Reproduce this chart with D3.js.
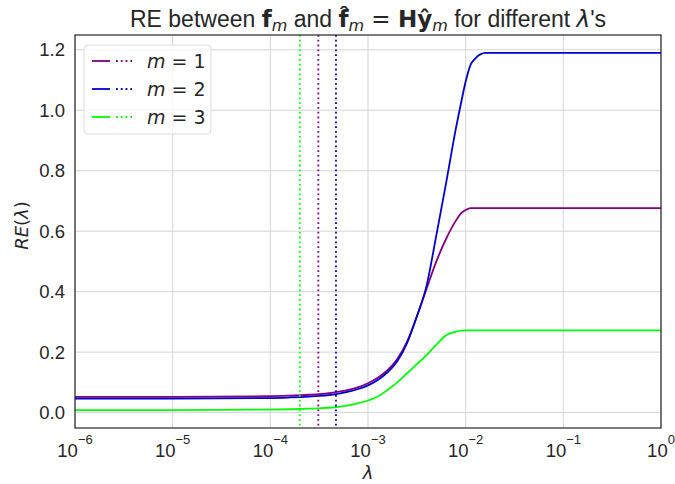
<!DOCTYPE html>
<html>
<head>
<meta charset="utf-8">
<script src="https://cdn.jsdelivr.net/npm/d3@7"></script>
<style>
  body { margin: 0; background: #fff; }
  svg text { font-family: "Liberation Sans", Arial, sans-serif; fill: #262626; }
  .math { font-family: "DejaVu Sans", sans-serif; }
</style>
</head>
<body>
<div id="chart"></div>
<script>
// log10(lambda) sample points
var logLambda = [-6, -5, -4, -3.8, -3.6, -3.5, -3.4, -3.3, -3.2, -3.1, -3.0, -2.9, -2.8, -2.7,
                 -2.6, -2.5, -2.4, -2.3, -2.2, -2.1, -2.05, -2.0, -1.95, -1.9, -1.85, -1.8, -1, 0];

// RE values per m
var reM1 = [0.052, 0.052, 0.054, 0.056, 0.059, 0.061, 0.064, 0.069, 0.075, 0.084, 0.097, 0.115, 0.140, 0.177,
            0.235, 0.318, 0.410, 0.500, 0.575, 0.635, 0.658, 0.670, 0.676, 0.676, 0.676, 0.676, 0.676, 0.676];
var reM2 = [0.046, 0.046, 0.048, 0.050, 0.053, 0.055, 0.058, 0.063, 0.069, 0.078, 0.090, 0.108, 0.133, 0.170,
            0.230, 0.318, 0.420, 0.587, 0.760, 0.940, 1.020, 1.095, 1.150, 1.172, 1.185, 1.190, 1.190, 1.190];
var reM3 = [0.008, 0.008, 0.010, 0.011, 0.013, 0.014, 0.016, 0.019, 0.024, 0.031, 0.040, 0.053, 0.075, 0.100,
            0.130, 0.160, 0.190, 0.225, 0.256, 0.268, 0.271, 0.272, 0.272, 0.272, 0.272, 0.272, 0.272, 0.272];

// chosen lambda (dotted vertical lines)
var bestLambda = [3.1e-4, 4.7e-4, 2.0e-4];

var seriesNames = ["1", "2", "3"];
var seriesColors = ["#800080", "#0000cd", "#00ff00"];
var yTicks = [0.0, 0.2, 0.4, 0.6, 0.8, 1.0, 1.2];
var xTicks = [-6, -5, -4, -3, -2, -1, 0];

var W = 675, H = 484;
var margin = {top: 35, right: 14, bottom: 56, left: 75};
var width = W - margin.left - margin.right,
    height = H - margin.top - margin.bottom;

var svg = d3.select("#chart").append("svg")
    .attr("width", W).attr("height", H);
var g = svg.append("g")
    .attr("transform", "translate(" + margin.left + "," + margin.top + ")");

var x = d3.scaleLog().domain([1e-6, 1]).range([0, width]);
var y = d3.scaleLinear().domain([-0.051, 1.249]).range([height, 0]);

// grid
g.append("g").selectAll("line").data(yTicks).enter().append("line")
  .attr("x1", 0).attr("x2", width)
  .attr("y1", function(d) { return y(d); }).attr("y2", function(d) { return y(d); })
  .attr("stroke", "#d5d5d5").attr("stroke-width", 1);
g.append("g").selectAll("line").data(xTicks).enter().append("line")
  .attr("y1", 0).attr("y2", height)
  .attr("x1", function(d) { return x(Math.pow(10, d)); }).attr("x2", function(d) { return x(Math.pow(10, d)); })
  .attr("stroke", "#d5d5d5").attr("stroke-width", 1);

// curves
var allSeries = [reM1, reM2, reM3];
var line = d3.line()
  .x(function(d, i) { return x(Math.pow(10, logLambda[i])); })
  .y(function(d) { return y(d); })
  .curve(d3.curveMonotoneX);

g.append("g").selectAll("path").data(allSeries).enter().append("path")
  .attr("d", line)
  .attr("fill", "none")
  .attr("stroke", function(d, i) { return seriesColors[i]; })
  .attr("stroke-width", 1.8);

// dotted vertical lines
g.append("g").selectAll("line").data(bestLambda).enter().append("line")
  .attr("x1", function(d) { return x(d); }).attr("x2", function(d) { return x(d); })
  .attr("y1", 0).attr("y2", height)
  .attr("stroke", function(d, i) { return seriesColors[i]; })
  .attr("stroke-width", 1.8)
  .attr("stroke-dasharray", "1.8,3");

// frame
g.append("rect").attr("width", width).attr("height", height)
  .attr("fill", "none").attr("stroke", "#262626").attr("stroke-width", 1.2);

// y tick labels
var yAxis = d3.axisLeft(y).tickValues(yTicks).tickSize(0).tickPadding(10)
  .tickFormat(d3.format(".1f"));
var ya = g.append("g").call(yAxis);
ya.select(".domain").remove();
ya.selectAll("text").style("font-size", "18.5px").attr("fill", "#262626")
  .style("font-family", "Liberation Sans, Arial, sans-serif");

// x tick labels: 10^k
var xa = g.append("g").attr("transform", "translate(0," + height + ")");
xTicks.forEach(function(k) {
  var t = xa.append("text")
    .attr("x", x(Math.pow(10, k)))
    .attr("y", 29)
    .attr("text-anchor", "middle")
    .style("font-size", "18.5px");
  t.append("tspan").text("10");
  t.append("tspan").attr("dy", -13).style("font-size", "13px").text(k === 0 ? "0" : "\u2212" + Math.abs(k));
});

// axis labels
svg.append("text").attr("class", "math")
  .attr("x", margin.left + width / 2).attr("y", 479)
  .attr("text-anchor", "middle")
  .style("font-size", "18px").style("font-style", "italic")
  .text("\u03bb");

svg.append("text").attr("class", "math")
  .attr("transform", "translate(28," + (margin.top + height / 2 - 6) + ") rotate(-90)")
  .attr("text-anchor", "middle")
  .style("font-size", "18px")
  .call(function(t) {
    t.append("tspan").style("font-style", "italic").text("RE");
    t.append("tspan").text("(");
    t.append("tspan").style("font-style", "italic").text("\u03bb");
    t.append("tspan").text(")");
  });

// title
var title = svg.append("text")
  .attr("x", margin.left + width / 2).attr("y", 27)
  .attr("text-anchor", "middle")
  .style("font-size", "23px");
title.append("tspan").text("RE between ");
title.append("tspan").attr("class", "math").style("font-weight", "bold").text("f");
title.append("tspan").attr("class", "math").style("font-style", "italic").style("font-size", "16px").attr("dy", 4).text("m");
title.append("tspan").attr("dy", -4).text(" and ");
title.append("tspan").attr("class", "math").style("font-weight", "bold").text("f\u0302");
title.append("tspan").attr("class", "math").style("font-style", "italic").style("font-size", "16px").attr("dy", 4).text("m");
title.append("tspan").attr("class", "math").attr("dy", -4).text(" = ");
title.append("tspan").attr("class", "math").style("font-weight", "bold").text("Hy\u0302");
title.append("tspan").attr("class", "math").style("font-style", "italic").style("font-size", "16px").attr("dy", 4).text("m");
title.append("tspan").attr("dy", -4).text(" for different ");
title.append("tspan").attr("class", "math").style("font-style", "italic").text("\u03bb");
title.append("tspan").text("'s");

// legend
var lg = svg.append("g").attr("transform", "translate(84,45)");
lg.append("rect").attr("width", 127).attr("height", 89).attr("rx", 4)
  .attr("fill", "#fff").attr("fill-opacity", 0.8)
  .attr("stroke", "#dcdcdc").attr("stroke-width", 1);
var items = lg.selectAll(".item").data(seriesNames).enter().append("g")
  .attr("transform", function(d, i) { return "translate(0," + (16 + i * 28) + ")"; });
items.append("line").attr("x1", 8).attr("x2", 26).attr("y1", 0).attr("y2", 0)
  .attr("stroke", function(d, i) { return seriesColors[i]; }).attr("stroke-width", 1.8);
items.append("line").attr("x1", 32).attr("x2", 48).attr("y1", 0).attr("y2", 0)
  .attr("stroke", function(d, i) { return seriesColors[i]; }).attr("stroke-width", 1.8)
  .attr("stroke-dasharray", "1.8,3");
items.append("text").attr("class", "math").attr("x", 63).attr("y", 7)
  .style("font-size", "19px")
  .call(function(t) {
    t.append("tspan").style("font-style", "italic").text("m");
    t.append("tspan").text(" = ");
    t.append("tspan").text(function(d) { return d; });
  });
</script>
</body>
</html>
